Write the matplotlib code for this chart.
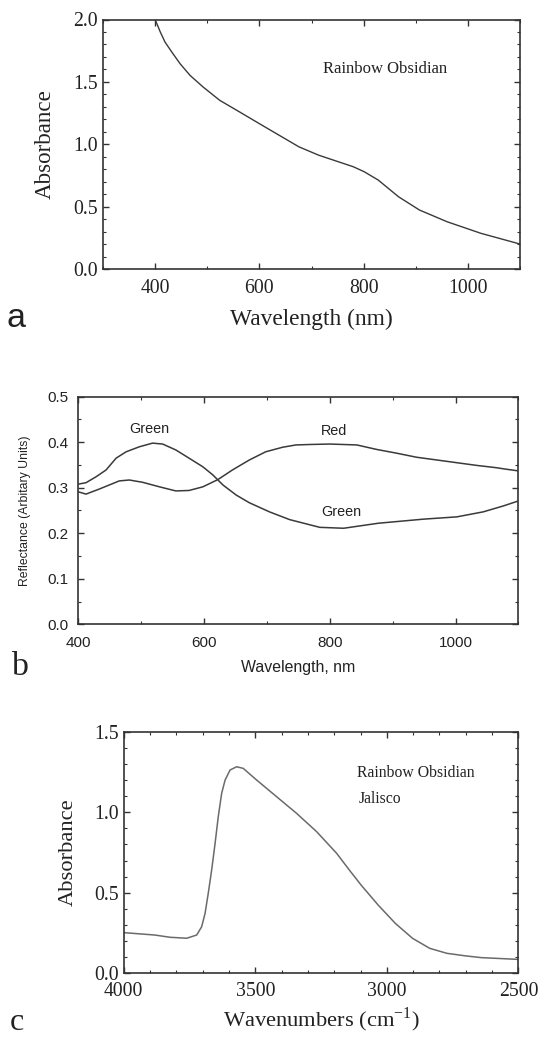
import matplotlib
matplotlib.use("Agg")
import matplotlib.pyplot as plt
from matplotlib.ticker import MultipleLocator

# ---------------- data ----------------
# Panel a: UV-Vis absorbance of rainbow obsidian
a_wavelength = [400, 410, 419, 432, 448, 467, 492, 524, 562, 600, 638, 676,
                714, 752, 780, 801, 828, 867, 907, 960, 1025, 1100]
a_absorbance = [2.00, 1.899, 1.819, 1.739, 1.645, 1.552, 1.459, 1.352, 1.259,
                1.165, 1.072, 0.979, 0.912, 0.859, 0.820, 0.780, 0.713, 0.579,
                0.473, 0.379, 0.286, 0.200]

# Panel b: reflectance spectra
b_red_wl = [400, 412, 433, 449, 465, 481, 502, 529, 555, 576, 598, 622, 645,
            672, 698, 725, 746, 768, 800, 843, 875, 906, 938, 970, 1002, 1034,
            1065, 1079, 1100]
b_red_val = [0.291, 0.286, 0.297, 0.306, 0.315, 0.317, 0.312, 0.302, 0.293,
             0.294, 0.302, 0.318, 0.339, 0.361, 0.379, 0.389, 0.394, 0.395,
             0.396, 0.394, 0.384, 0.376, 0.367, 0.361, 0.355, 0.349, 0.344,
             0.341, 0.337]
b_green_wl = [400, 412, 428, 444, 460, 476, 497, 518, 534, 555, 576, 598, 614,
              630, 651, 672, 704, 736, 784, 822, 877, 949, 1002, 1044, 1076, 1100]
b_green_val = [0.308, 0.311, 0.324, 0.339, 0.365, 0.379, 0.390, 0.398, 0.396,
               0.383, 0.365, 0.346, 0.328, 0.306, 0.284, 0.267, 0.247, 0.230,
               0.213, 0.211, 0.222, 0.231, 0.236, 0.247, 0.260, 0.271]

# Panel c: IR absorbance
c_wavenumber = [4000, 3882, 3824, 3761, 3723, 3704, 3691, 3679, 3666, 3653,
                3641, 3628, 3615, 3596, 3571, 3546, 3495, 3419, 3343, 3267,
                3191, 3140, 3098, 3033, 2968, 2902, 2837, 2772, 2706, 2641, 2500]
c_absorbance = [0.250, 0.235, 0.221, 0.215, 0.235, 0.287, 0.371, 0.495, 0.641,
                0.807, 0.973, 1.119, 1.202, 1.265, 1.285, 1.275, 1.202, 1.098,
                0.994, 0.880, 0.745, 0.635, 0.547, 0.422, 0.308, 0.214, 0.152,
                0.121, 0.106, 0.094, 0.083]

SERIF = ["Liberation Serif", "DejaVu Serif"]
SANS = ["Liberation Sans", "DejaVu Sans"]
plt.rcParams["mathtext.fontset"] = "custom"
plt.rcParams["mathtext.rm"] = "Liberation Serif"

W, H = 539, 1038
fig = plt.figure(figsize=(W / 100, H / 100), dpi=100)


def axes_px(left, top, right, bottom):
    return fig.add_axes([left / W, 1 - bottom / H, (right - left) / W, (bottom - top) / H])


def style_axes(ax, family, size):
    ax.tick_params(which="both", direction="in", top=True, right=True,
                   colors="#333333", labelcolor="#222222")
    ax.tick_params(which="major", length=4, width=1.0, labelsize=size)
    ax.tick_params(which="minor", length=2.5, width=0.8)
    for s in ax.spines.values():
        s.set_color("#333333")
        s.set_linewidth(1.2)
    for lab in ax.get_xticklabels() + ax.get_yticklabels():
        lab.set_fontfamily(family)


# ---------------- panel a ----------------
axa = axes_px(103, 19.5, 520, 269)
axa.plot(a_wavelength, a_absorbance, color="#3a3a3a", lw=1.0)
axa.set_xlim(300, 1100)
axa.set_ylim(0, 2.0)
axa.xaxis.set_major_locator(MultipleLocator(200))
axa.xaxis.set_minor_locator(MultipleLocator(100))
axa.yaxis.set_major_locator(MultipleLocator(0.5))
axa.yaxis.set_minor_locator(MultipleLocator(0.1))
axa.set_xticks([400, 600, 800, 1000])
axa.set_yticks([0, 0.5, 1.0, 1.5, 2.0])
axa.set_yticklabels([f"{v:.1f}" for v in [0, 0.5, 1.0, 1.5, 2.0]])
style_axes(axa, SERIF, 14.2)
axa.tick_params(axis="x", which="major", pad=7)
axa.tick_params(axis="y", which="major", pad=3.6)
axa.set_xlabel("Wavelength (nm)", family=SERIF, fontsize=16.8, color="#222222", labelpad=8)
axa.set_ylabel("Absorbance", family=SERIF, fontsize=16.6, color="#222222", labelpad=13)
axa.text(722, 1.607, "Rainbow Obsidian", family=SERIF, fontsize=12,
         color="#222222", va="center", ha="left")
fig.text(7 / W, 1 - 327 / H, "a", family=SANS, fontsize=24.5, color="#222222",
         ha="left", va="baseline")

# ---------------- panel b ----------------
axb = axes_px(78.4, 396.7, 518.4, 624.3)
axb.plot(b_red_wl, b_red_val, color="#3a3a3a", lw=1.1)
axb.plot(b_green_wl, b_green_val, color="#3a3a3a", lw=1.1)
axb.set_xlim(400, 1100)
axb.set_ylim(0, 0.5)
axb.xaxis.set_major_locator(MultipleLocator(200))
axb.xaxis.set_minor_locator(MultipleLocator(100))
axb.yaxis.set_major_locator(MultipleLocator(0.1))
axb.yaxis.set_minor_locator(MultipleLocator(0.05))
axb.set_yticks([0, 0.1, 0.2, 0.3, 0.4, 0.5])
axb.set_yticklabels([f"{v:.1f}" for v in [0, 0.1, 0.2, 0.3, 0.4, 0.5]])
style_axes(axb, SANS, 11)
axb.tick_params(axis="x", which="major", pad=8.5)
axb.tick_params(axis="y", which="major", pad=7)
axb.set_xlabel("Wavelength, nm", family=SANS, fontsize=11.4, color="#222222", labelpad=7)
axb.set_ylabel("Reflectance (Arbitary Units)", family=SANS, fontsize=8.8,
               color="#222222", labelpad=12)
axb.text(513, 0.430, "Green", family=SANS, fontsize=10.4, color="#222222",
         ha="center", va="center")
axb.text(807, 0.425, "Red", family=SANS, fontsize=10.4, color="#222222",
         ha="center", va="center")
axb.text(819, 0.247, "Green", family=SANS, fontsize=10.4, color="#222222",
         ha="center", va="center")
fig.text(11 / W, 1 - 675 / H, "b", family=SERIF, fontsize=24.5, color="#222222",
         ha="left", va="baseline")

# ---------------- panel c ----------------
axc = axes_px(123.8, 732.3, 518.4, 972.7)
axc.plot(c_wavenumber, c_absorbance, color="#6a6a6a", lw=1.1)
axc.set_xlim(4000, 2500)
axc.set_ylim(0, 1.5)
axc.xaxis.set_major_locator(MultipleLocator(500))
axc.xaxis.set_minor_locator(MultipleLocator(100))
axc.yaxis.set_major_locator(MultipleLocator(0.5))
axc.yaxis.set_minor_locator(MultipleLocator(0.1))
axc.set_yticks([0, 0.5, 1.0, 1.5])
axc.set_yticklabels([f"{v:.1f}" for v in [0, 0.5, 1.0, 1.5]])
style_axes(axc, SERIF, 14.2)
axc.tick_params(axis="x", which="major", pad=6.5)
axc.tick_params(axis="y", which="major", pad=3.7)
axc.set_xlabel(r"Wavenumbers (cm$^{\mathregular{-1}}$)", family=SERIF, fontsize=16.2,
               color="#222222", labelpad=3)
axc.set_ylabel("Absorbance", family=SERIF, fontsize=16.2, color="#222222", labelpad=12)
axc.text(3112, 1.244, "Rainbow Obsidian", family=SERIF, fontsize=11.3,
         color="#222222", ha="left", va="center")
axc.text(3109, 1.082, "Jalisco", family=SERIF, fontsize=11.3,
         color="#222222", ha="left", va="center")
fig.text(10 / W, 1 - 1030 / H, "c", family=SERIF, fontsize=23, color="#222222",
         ha="left", va="baseline")

fig.savefig("out.png", dpi=100, facecolor="white")
